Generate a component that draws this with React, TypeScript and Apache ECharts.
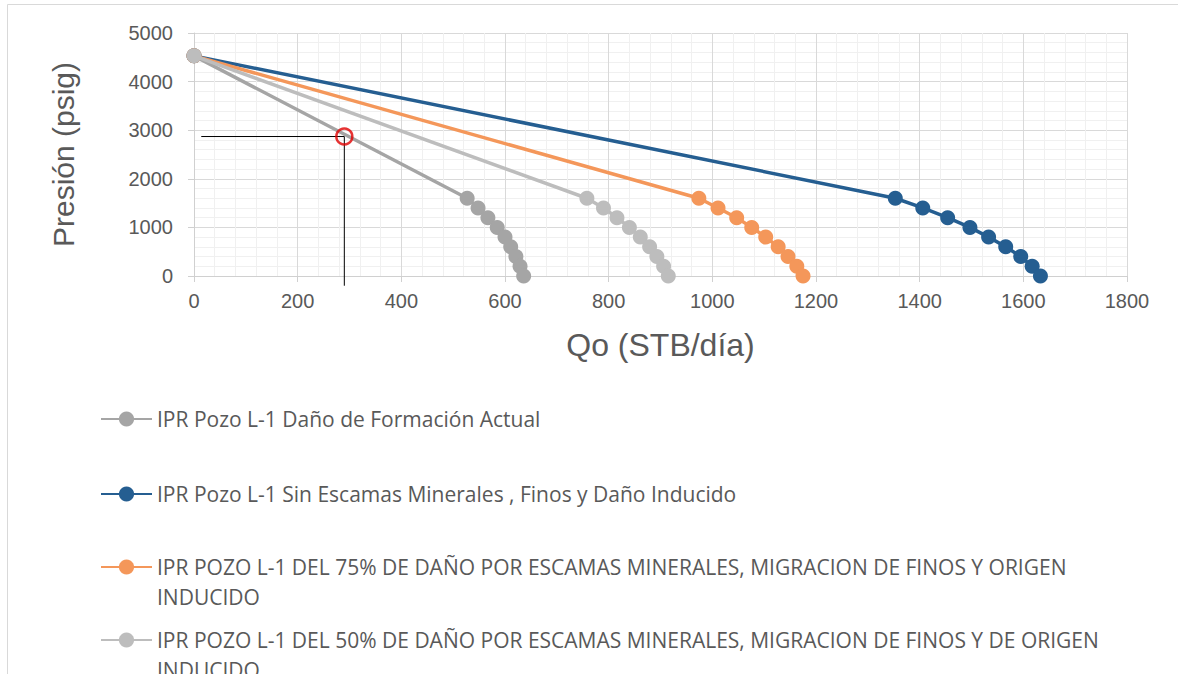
import React, { useEffect, useRef } from "react";
import * as echarts from "echarts";

const seriesNames = [
  "IPR Pozo L-1 Daño de Formación Actual",
  "IPR Pozo L-1 Sin Escamas Minerales , Finos y Daño Inducido",
  "IPR POZO L-1 DEL 75% DE DAÑO POR ESCAMAS MINERALES, MIGRACION DE FINOS Y ORIGEN INDUCIDO",
  "IPR POZO L-1 DEL 50% DE DAÑO POR ESCAMAS MINERALES, MIGRACION DE FINOS Y DE ORIGEN INDUCIDO",
];
const seriesColors = ["#a5a5a5", "#255e91", "#f4975a", "#bdbdbd"];

const pressures = [4530, 1600, 1400, 1200, 1000, 800, 600, 400, 200, 0];
const qActual = [0, 527, 548, 567, 585, 600, 611, 621, 629, 636];
const qSinDano = [0, 1353, 1406, 1454, 1497, 1533, 1566, 1595, 1617, 1633];
const q75 = [0, 974, 1011, 1047, 1076, 1103, 1127, 1146, 1163, 1175];
const q50 = [0, 758, 790, 816, 840, 861, 879, 893, 906, 915];

const annotationQ = [14, 290, 290];
const annotationP = [2870, 2870, -200];
const markedPoint = [290, 2870];

const xTicks = { min: 0, max: 1800, interval: 200 };
const yTicks = { min: 0, max: 5000, interval: 1000 };

const legendTops = [404, 479, 522, 595];

export default function App() {
  const ref = useRef<HTMLDivElement>(null);
  useEffect(() => {
    if (!ref.current) return;
    const chart = echarts.init(ref.current, null, { renderer: "svg" });
    const qSets = [qActual, qSinDano, q75, q50];
    const lineSeries = qSets.map((qs, i) => ({
      type: "line",
      name: seriesNames[i],
      data: qs.map((q, j) => [q, pressures[j]]),
      symbol: "circle",
      symbolSize: 15,
      showSymbol: true,
      lineStyle: { color: seriesColors[i], width: 3.5 },
      itemStyle: { color: seriesColors[i] },
      z: 3 + i,
    }));
    const axisText = {
      fontFamily: "Liberation Sans",
      fontSize: 20,
      color: "#595959",
      formatter: (v: number) => String(v),
    };
    chart.setOption({
      animation: false,
      backgroundColor: "#ffffff",
      grid: { left: 194, top: 33, width: 933, height: 243, containLabel: false },
      xAxis: {
        type: "value",
        min: xTicks.min,
        max: xTicks.max,
        interval: xTicks.interval,
        name: "Qo (STB/día)",
        nameLocation: "middle",
        nameGap: 53,
        nameTextStyle: { fontFamily: "Liberation Sans", fontSize: 32, color: "#595959" },
        axisLine: { show: true, lineStyle: { color: "#d0d0d0", width: 1 } },
        axisTick: { show: true, length: 6, lineStyle: { color: "#d0d0d0" } },
        axisLabel: { ...axisText, margin: 15 },
        splitLine: { show: true, lineStyle: { color: "#d9d9d9", width: 1 } },
        minorTick: { show: false, splitNumber: 5 },
        minorSplitLine: { show: true, lineStyle: { color: "#f0f0f0", width: 1 } },
      },
      yAxis: {
        type: "value",
        min: yTicks.min,
        max: yTicks.max,
        interval: yTicks.interval,
        name: "Presión (psig)",
        nameLocation: "middle",
        nameGap: 116,
        nameTextStyle: { fontFamily: "Liberation Sans", fontSize: 30, color: "#595959" },
        axisLine: { show: true, lineStyle: { color: "#d0d0d0", width: 1 } },
        axisTick: { show: true, length: 6, lineStyle: { color: "#d0d0d0" } },
        axisLabel: { ...axisText, margin: 21 },
        splitLine: { show: true, lineStyle: { color: "#d9d9d9", width: 1 } },
        minorTick: { show: false, splitNumber: 5 },
        minorSplitLine: { show: true, lineStyle: { color: "#f0f0f0", width: 1 } },
      },
      legend: seriesNames.map((n, i) => ({
        data: [n],
        left: 100,
        top: legendTops[i],
        orient: "vertical",
        padding: 0,
        itemWidth: 51,
        itemHeight: 19,
        itemGap: 0,
        selectedMode: false,
        formatter: (name: string) =>
          / INDUCIDO$/.test(name) ? " \n" + name.replace(/ INDUCIDO$/, "\nINDUCIDO") : name,
        textStyle: {
          fontFamily: "Open Sans",
          fontSize: 21,
          color: "#595959",
          lineHeight: 30,
        },
      })),
      graphic: [
        {
          type: "rect",
          silent: true,
          shape: { x: 7.5, y: 4.5, width: 1300, height: 800 },
          style: { fill: "none", stroke: "#d9d9d9", lineWidth: 1 },
        },
      ],
      series: [
        ...lineSeries,
        {
          type: "line",
          name: "annotation",
          data: annotationQ.map((q, j) => [q, annotationP[j]]),
          symbol: "none",
          clip: false,
          lineStyle: { color: "#000000", width: 1 },
          z: 10,
          silent: true,
        },
        {
          type: "scatter",
          name: "marked",
          data: [markedPoint],
          symbol: "circle",
          symbolSize: 16,
          itemStyle: { color: "rgba(0,0,0,0)", borderColor: "#e00000", borderWidth: 2.5 },
          z: 11,
          silent: true,
        },
      ],
    });
    return () => chart.dispose();
  }, []);
  return (
    <div
      ref={ref}
      style={{ position: "absolute", left: 0, top: 0, width: 1178, height: 674 }}
    />
  );
}
